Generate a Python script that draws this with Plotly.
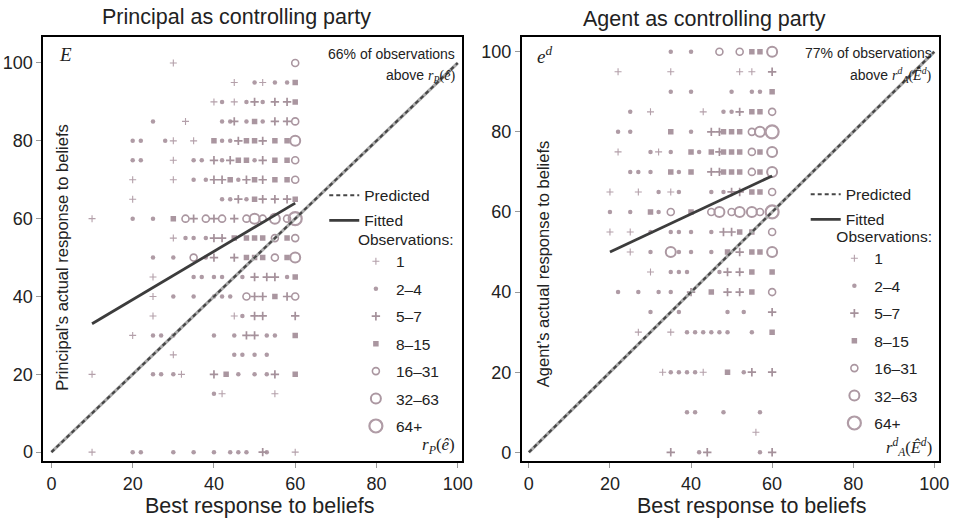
import plotly.graph_objects as go

W, H = 964, 520

# ---------------- data ----------------
axis_ticks = [0, 20, 40, 60, 80, 100]
predicted_x = [0, 100]
predicted_y = [0, 100]

left_fit_x = [10, 60]
left_fit_y = [33, 64]
right_fit_x = [20, 60]
right_fit_y = [50, 69]

obs_labels = ["1", "2–4", "5–7", "8–15", "16–31", "32–63", "64+"]

# (best response, actual response, observation-count class index)
left_points = [
    (30,100,0),(60,100,4),
    (45,95,0),(50,95,1),(52,95,0),(55,95,1),(58,95,1),(60,95,3),
    (40,90,0),(42,90,1),(45,90,0),(48,90,1),(50,90,2),(52,90,1),(55,90,2),(58,90,2),(60,90,3),
    (25,85,1),(33,85,0),(42,85,1),(44,85,1),(45,85,2),(48,85,1),(50,85,3),(52,85,1),(55,85,2),(58,85,2),(60,85,4),
    (20,80,1),(22,80,1),(28,80,1),(30,80,0),(35,80,0),(40,80,3),(42,80,1),(44,80,1),(46,80,2),(48,80,3),(50,80,3),(52,80,2),(55,80,3),(58,80,3),(60,80,5),
    (20,75,1),(22,75,1),(30,75,0),(35,75,1),(37,75,1),(40,75,2),(42,75,1),(44,75,2),(46,75,3),(48,75,3),(50,75,1),(52,75,2),(55,75,3),(58,75,3),(60,75,4),
    (20,70,0),(30,70,0),(35,70,1),(38,70,1),(40,70,2),(42,70,2),(44,70,3),(46,70,1),(48,70,2),(50,70,3),(52,70,2),(55,70,3),(58,70,3),(60,70,4),
    (20,65,0),(42,65,1),(44,65,1),(46,65,2),(48,65,1),(50,65,3),(52,65,2),(55,65,2),(58,65,2),(60,65,3),
    (10,60,0),(20,60,1),(25,60,1),(30,60,3),(33,60,4),(35,60,2),(38,60,4),(40,60,2),(42,60,4),(45,60,2),(48,60,4),(50,60,5),(52,60,4),(55,60,5),(58,60,4),(60,60,6),
    (30,55,0),(33,55,1),(35,55,1),(38,55,1),(40,55,2),(42,55,2),(45,55,3),(48,55,3),(50,55,3),(52,55,3),(55,55,4),(58,55,3),(60,55,4),
    (25,50,1),(30,50,1),(35,50,4),(38,50,1),(40,50,2),(45,50,2),(48,50,3),(50,50,3),(52,50,3),(55,50,4),(58,50,3),(60,50,5),
    (25,45,0),(35,45,1),(37,45,1),(40,45,1),(42,45,1),(47,45,1),(50,45,2),(53,45,2),(55,45,2),(58,45,1),(60,45,3),
    (25,40,0),(30,40,1),(35,40,1),(40,40,1),(42,40,1),(44,40,1),(48,40,4),(50,40,2),(52,40,2),(55,40,3),(58,40,2),(60,40,4),
    (25,35,0),(45,35,0),(47,35,1),(50,35,2),(52,35,2),(60,35,2),
    (20,30,0),(25,30,1),(27,30,1),(30,30,1),(40,30,1),(45,30,1),(48,30,2),(50,30,2),(53,30,1),(55,30,1),(60,30,3),
    (30,25,0),(45,25,1),(47,25,1),(50,25,1),(53,25,1),
    (10,20,0),(25,20,1),(27,20,1),(30,20,1),(32,20,0),(40,20,2),(43,20,3),(46,20,1),(50,20,1),(53,20,1),(55,20,2),(60,20,3),
    (40,15,1),(42,15,0),(55,15,0),
    (10,0,0),(20,0,1),(22,0,1),(30,0,1),(35,0,1),(40,0,1),(44,0,1),(46,0,1),(48,0,1),(52,0,2),(53,0,1),(60,0,0),
]

right_points = [
    (35,100,1),(40,100,1),(47,100,4),(52,100,4),(55,100,3),(57,100,3),(60,100,5),
    (22,95,0),(35,95,0),(52,95,0),(55,95,0),(60,95,2),
    (35,90,1),(40,90,1),(50,90,1),(55,90,1),(57,90,1),(60,90,3),
    (25,85,1),(30,85,0),(43,85,0),(48,85,1),(50,85,1),(52,85,2),(55,85,3),(57,85,3),(60,85,4),
    (22,80,1),(25,80,1),(35,80,3),(40,80,1),(45,80,2),(47,80,2),(48,80,3),(50,80,3),(52,80,3),(55,80,4),(57,80,5),(60,80,6),
    (22,75,0),(30,75,1),(32,75,0),(35,75,1),(40,75,3),(42,75,1),(45,75,3),(47,75,2),(48,75,3),(50,75,3),(52,75,3),(55,75,4),(57,75,3),(60,75,5),
    (25,70,1),(27,70,1),(30,70,1),(35,70,3),(37,70,1),(40,70,3),(45,70,2),(47,70,2),(48,70,3),(50,70,3),(52,70,3),(55,70,4),(57,70,3),(60,70,5),
    (20,65,0),(27,65,0),(32,65,1),(35,65,0),(37,65,1),(45,65,1),(48,65,1),(50,65,2),(52,65,2),(55,65,3),(57,65,3),(60,65,4),
    (20,60,1),(25,60,1),(30,60,3),(32,60,1),(35,60,4),(40,60,3),(45,60,4),(47,60,5),(50,60,4),(52,60,5),(55,60,5),(57,60,4),(60,60,6),
    (20,55,0),(25,55,0),(30,55,1),(35,55,1),(37,55,1),(40,55,1),(45,55,1),(48,55,2),(50,55,2),(52,55,3),(55,55,3),(60,55,4),
    (25,50,0),(30,50,1),(35,50,5),(37,50,1),(40,50,1),(45,50,1),(49,50,3),(52,50,2),(55,50,3),(57,50,3),(60,50,5),
    (30,45,0),(35,45,1),(37,45,1),(39,45,1),(47,45,1),(49,45,2),(52,45,2),(55,45,3),(60,45,3),
    (22,40,1),(27,40,1),(32,40,1),(35,40,1),(40,40,2),(45,40,3),(49,40,2),(52,40,2),(55,40,3),(60,40,4),
    (30,35,1),(37,35,1),(49,35,1),(53,35,1),(60,35,2),
    (27,30,0),(35,30,0),(39,30,1),(41,30,1),(43,30,1),(45,30,1),(47,30,1),(49,30,1),(55,30,1),(60,30,3),
    (33,20,0),(35,20,1),(37,20,1),(39,20,1),(41,20,1),(43,20,0),(49,20,3),(53,20,1),(55,20,2),(60,20,2),
    (39,10,1),(41,10,1),(48,10,1),(57,10,1),
    (56,5,0),
    (35,0,2),(42,0,1),(44,0,2),(57,0,1),(60,0,2),
]

# ---------------- styles ----------------
FONT = "Liberation Sans, Arial, sans-serif"
SERIF = "Liberation Serif, Times New Roman, serif"
TXT = "#222222"

obs_styles = [
    dict(symbol="cross-thin", size=5, color="rgb(180,160,170)", line=dict(width=1.1, color="rgb(180,160,170)")),
    dict(symbol="circle", size=4.5, color="rgb(175,155,165)", line=dict(width=0)),
    dict(symbol="cross-thin", size=6, color="rgb(165,145,155)", line=dict(width=1.7, color="rgb(165,145,155)")),
    dict(symbol="square", size=5.5, color="rgb(170,150,160)", line=dict(width=0)),
    dict(symbol="circle-open", size=7, color="rgb(170,150,160)", line=dict(width=1.6, color="rgb(170,150,160)")),
    dict(symbol="circle-open", size=10, color="rgb(172,152,162)", line=dict(width=2, color="rgb(172,152,162)")),
    dict(symbol="circle-open", size=13, color="rgb(176,156,166)", line=dict(width=2.2, color="rgb(176,156,166)")),
]

fig = go.Figure()


def add_panel(points, fit_x, fit_y, xa, ya, leg_lines, leg_obs):
    for ci, lab in enumerate(obs_labels):
        xs = [p[0] for p in points if p[2] == ci]
        ys = [p[1] for p in points if p[2] == ci]
        fig.add_trace(go.Scatter(
            x=xs, y=ys, mode="markers", marker=obs_styles[ci], name=lab,
            xaxis=xa, yaxis=ya, legend=leg_obs, legendgroup=leg_obs + lab,
            hoverinfo="skip"))
    # predicted (45-degree) line: grey under-stroke + dark dashes
    fig.add_trace(go.Scatter(
        x=predicted_x, y=predicted_y, mode="lines",
        line=dict(color="rgb(170,170,170)", width=3.2), showlegend=False,
        xaxis=xa, yaxis=ya, hoverinfo="skip"))
    fig.add_trace(go.Scatter(
        x=predicted_x, y=predicted_y, mode="lines", name="Predicted",
        line=dict(color="rgb(70,70,70)", width=2.2, dash="4px,3px"),
        xaxis=xa, yaxis=ya, legend=leg_lines, legendgroup=leg_lines + "p",
        hoverinfo="skip"))
    fig.add_trace(go.Scatter(
        x=fit_x, y=fit_y, mode="lines", name="Fitted",
        line=dict(color="rgb(60,60,60)", width=2.8),
        xaxis=xa, yaxis=ya, legend=leg_lines, legendgroup=leg_lines + "f",
        hoverinfo="skip"))


add_panel(left_points, left_fit_x, left_fit_y, "x", "y", "legend", "legend2")
add_panel(right_points, right_fit_x, right_fit_y, "x2", "y2", "legend3", "legend4")

ydom = [1 - 462 / H, 1 - 37 / H]


def axis(domain, rng, anchor):
    return dict(domain=domain, range=rng, anchor=anchor, tickvals=axis_ticks,
                showline=True, mirror=True, linecolor="black", linewidth=2,
                ticks="outside", ticklen=5, tickwidth=1, tickcolor="#999999",
                showgrid=False, zeroline=False,
                tickfont=dict(family=FONT, size=18, color=TXT))


def leg(x_px, y_px, gap, title=None):
    d = dict(x=x_px / W, y=1 - y_px / H, xanchor="left", yanchor="top",
             bgcolor="rgba(0,0,0,0)", borderwidth=0, itemwidth=30,
             tracegroupgap=gap, font=dict(family=FONT, size=15.5, color=TXT),
             itemclick=False, itemdoubleclick=False)
    if title:
        d["title"] = dict(text=title, side="top", font=dict(family=FONT, size=15.5, color=TXT))
    return d


fig.update_layout(
    width=W, height=H, margin=dict(l=0, r=0, t=0, b=0),
    paper_bgcolor="white", plot_bgcolor="white", showlegend=True,
    xaxis=axis([44 / W, 467 / W], [-1.95, 100.97], "y"),
    yaxis=axis(ydom, [-2.3, 106.7], "x"),
    xaxis2=axis([528 / W, 950 / W], [-1.7, 101.2], "y2"),
    yaxis2=axis(ydom, [-2.2, 103.7], "x2"),
    legend=leg(328, 179, 2),
    legend2=leg(360, 225, 4.3, "Observations:"),
    legend3=leg(815, 178, 2),
    legend4=leg(844, 222, 4.3, "Observations:"),
)

ann = []


def text(x, y, s, size=17, xanchor="center", family=FONT, angle=0, color=TXT):
    ann.append(dict(x=x / W, y=1 - y / H, xref="paper", yref="paper", text=s,
                    showarrow=False, xanchor=xanchor, yanchor="middle",
                    textangle=angle, font=dict(family=family, size=size, color=color)))


text(239, 17, "Principal as controlling party", 21.5)
text(713, 19, "Agent as controlling party", 21.5)
text(262, 507, "Best response to beliefs", 21.5)
text(760, 507, "Best response to beliefs", 21.5)
text(62, 258, "Principal’s actual response to beliefs", 16.5, angle=-90)
text(550, 265, "Agent’s actual response to beliefs", 16.5, angle=-90)

text(58, 55, "<i>E</i>", 19, "left", SERIF)
text(541, 55, "<i>e</i><sup><i>d</i></sup>", 19, "left", SERIF)

rp = '<span style="font-family:Liberation Serif"><i>r</i><sub><i>P</i></sub>(<i>ê</i>)</span>'
ra = ('<span style="font-family:Liberation Serif"><i>r</i><sup><i>d</i></sup><sub><i>A</i></sub>'
      '(<i>Ê</i><sup><i>d</i></sup>)</span>')
text(462, 54, "66% of observations", 14, "right")
text(462, 76, "above " + rp, 14, "right")
text(945, 53, "77% of observations", 14, "right")
text(945, 75, "above " + ra, 14, "right")
text(462, 447, rp, 17, "right")
text(945, 448, ra, 16.5, "right")

fig.update_layout(annotations=ann)

fig.write_html("out.html", config={"displayModeBar": False},
               post_script="document.body.style.margin='0';")
